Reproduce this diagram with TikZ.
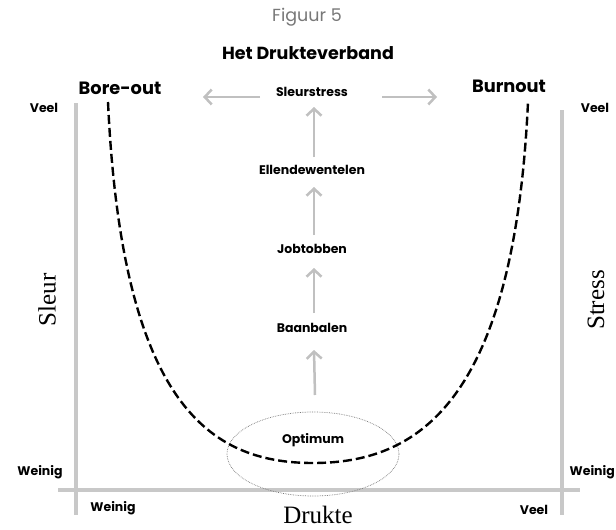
\documentclass[tikz,border=0pt]{standalone}
\usepackage{fontspec}
\setmainfont{Poppins}
\newfontfamily\serifcond{Liberation Serif}
\usetikzlibrary{arrows.meta,calc,shapes.geometric}
\definecolor{axisgray}{RGB}{200,200,200}
\definecolor{arrgray}{RGB}{192,192,192}
\definecolor{figgray}{RGB}{120,120,120}
\begin{document}
\begin{tikzpicture}[x=1pt,y=-1pt,
  lab/.style={inner sep=0pt, font=\bfseries\fontsize{12.5}{14}\selectfont},
  smalllab/.style={inner sep=0pt, font=\bfseries\fontsize{12.5}{14}\selectfont},
  biglab/.style={inner sep=0pt, font=\bfseries\fontsize{17.8}{20}\selectfont},
  axislab/.style={inner sep=0pt, font=\serifcond\fontsize{25}{27}\selectfont},
  axisline/.style={draw=axisgray, line width=4.5pt},
  garrow/.style={draw=arrgray, line width=2.5pt, -{Straight Barb[length=7pt,width=15pt,line width=2.5pt]}},
  curve/.style={draw=black, line width=2.4pt, dash pattern=on 9pt off 4pt}
]
\useasboundingbox (0,0) rectangle (616,530);
\fill[white] (0,0) rectangle (616,530);

% axes
\coordinate (xl) at (58,490);
\coordinate (xr) at (580,490);
\coordinate (ylt) at (76,103);
\coordinate (ylb) at (76,515);
\coordinate (yrt) at (562,110);
\coordinate (yrb) at (562,515);
\draw[axisline] (xl) -- (xr);
\draw[axisline] (ylt) -- (ylb);
\draw[axisline] (yrt) -- (yrb);

% titles
\node[inner sep=0pt, text=figgray, font=\fontsize{17.5}{20}\selectfont] (fig) at (307,17) {Figuur 5};
\node[inner sep=0pt, font=\bfseries\fontsize{17.5}{20}\selectfont] (title) at (308,53) {Het Drukteverband};
\node[biglab] (bore) at (120,88) {Bore-out};
\node[biglab] (burn) at (509,86) {Burnout};

% axis labels
\node[smalllab] (veelL) at (44,108) {Veel};
\node[smalllab] (veelR) at (595,108) {Veel};
\node[smalllab] (weinL) at (40,472) {Weinig};
\node[smalllab, anchor=east] (weinR) at (615,472) {Weinig};
\node[smalllab] (weinB) at (113,508) {Weinig};
\node[smalllab] (veelB) at (534,510) {Veel};
\node[axislab] (drukte) at (318,515) {Drukte};
\node[axislab, rotate=90] (sleur) at (47,300) {Sleur};
\node[axislab, rotate=90] (stress) at (596,300) {Stress};

% stages
\node[lab] (sleurstress) at (312,92) {Sleurstress};
\node[lab] (ellende) at (312,170) {Ellendewentelen};
\node[lab] (job) at (312,249) {Jobtobben};
\node[lab] (baan) at (312,328) {Baanbalen};
\node[lab] (opt) at (313,440) {Optimum};

% optimum ellipse
\node[draw=figgray, densely dotted, line width=0.7pt, ellipse, inner sep=0pt, minimum width=172pt, minimum height=84pt] (optell) at (313,454) {};

% U curve
\coordinate (ctopL) at (108,102);
\coordinate (cbot) at (313,463);
\coordinate (ctopR) at (528,102);
\draw[curve] (ctopL) .. controls (122,405) and (210,463) .. (cbot)
  .. controls (416,463) and (514,405) .. (ctopR);

% arrows
\draw[garrow] ($(opt)+(2,-45)$) -- ($(baan)+(2,22)$);
\draw[garrow] ($(baan)+(2,-15)$) -- ($(job)+(2,19)$);
\draw[garrow] ($(job)+(2,-14)$) -- ($(ellende)+(2,17)$);
\draw[garrow] ($(ellende)+(2,-13)$) -- ($(sleurstress)+(2,15)$);
\draw[garrow] ($(sleurstress)+(-52,5)$) -- ($(sleurstress)+(-109,5)$);
\draw[garrow] ($(sleurstress)+(70,5)$) -- ($(sleurstress)+(125,5)$);
\end{tikzpicture}
\end{document}
